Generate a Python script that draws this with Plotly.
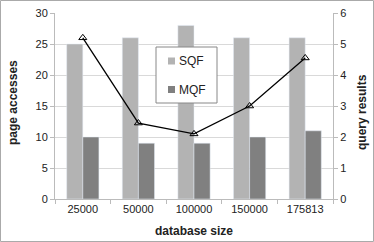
import plotly.graph_objects as go

categories = ["25000", "50000", "100000", "150000", "175813"]
sqf = [25, 26, 28, 26, 26]
mqf = [10, 9, 9, 10, 11]
query_results = [5.2, 2.45, 2.1, 3.0, 4.55]
legend_names = ["SQF", "MQF"]
colors = ["#b3b3b3", "#808080"]

W, H = 374, 242
L, R, T, B = 55, 41, 13, 43
pw, ph = W - L - R, H - T - B


def px(x):
    return (x - L) / pw


def py(y):
    return (H - B - y) / ph


fig = go.Figure()
fig.add_trace(go.Bar(x=categories, y=sqf, name=legend_names[0], marker_color=colors[0]))
fig.add_trace(go.Bar(x=categories, y=mqf, name=legend_names[1], marker_color=colors[1]))
fig.add_trace(go.Scatter(x=categories, y=query_results, yaxis="y2", mode="lines+markers",
                         line=dict(color="black", width=1.3),
                         marker=dict(symbol="triangle-up-open", size=7, color="black",
                                     line=dict(width=1)),
                         showlegend=False))

font = "Liberation Sans"
axis_common = dict(ticks="outside", ticklen=4, tickcolor="#bbb", showline=True,
                   linecolor="#bbb", automargin=False)

shapes = [dict(type="rect", xref="paper", yref="paper",
               x0=(-L + 0.5) / pw, x1=1 + (R - 0.5) / pw,
               y0=(-B + 0.5) / ph, y1=1 + (T - 0.5) / ph,
               line=dict(color="#aaa", width=1), layer="below"),
          dict(type="rect", xref="paper", yref="paper",
               x0=px(156), x1=px(217), y0=py(103), y1=py(47),
               line=dict(color="#888", width=1), fillcolor="white", layer="above")]
annotations = [
    dict(text="<b>page accesses</b>", xref="paper", yref="paper", x=px(13), y=py(103),
         textangle=-90, showarrow=False, font=dict(size=12), xanchor="center", yanchor="middle"),
    dict(text="<b>query results</b>", xref="paper", yref="paper", x=px(362), y=py(112),
         textangle=-90, showarrow=False, font=dict(size=12), xanchor="center", yanchor="middle"),
    dict(text="<b>database size</b>", xref="paper", yref="paper", x=px(194), y=py(231),
         showarrow=False, font=dict(size=12), xanchor="center", yanchor="middle"),
]
leg_y = [61, 89.5]
for name, col, yy in zip(legend_names, colors, leg_y):
    shapes.append(dict(type="rect", xref="paper", yref="paper",
                       x0=px(168), x1=px(175), y0=py(yy + 3.5), y1=py(yy - 3.5),
                       line=dict(width=0), fillcolor=col, layer="above"))
    annotations.append(dict(text=name, xref="paper", yref="paper", x=px(177), y=py(yy),
                            xanchor="left", yanchor="middle", showarrow=False,
                            font=dict(size=12)))

fig.update_layout(
    width=W, height=H,
    margin=dict(l=L, r=R, t=T, b=B),
    paper_bgcolor="white", plot_bgcolor="white",
    font=dict(family=font, size=11, color="#222"),
    barmode="group", bargap=0.42, bargroupgap=0,
    showlegend=False,
    xaxis=dict(showgrid=False, tickson="boundaries", **axis_common),
    yaxis=dict(range=[0, 30], dtick=5, showgrid=True, gridcolor="#d9d9d9",
               zeroline=False, **axis_common),
    yaxis2=dict(range=[0, 6], dtick=1, overlaying="y", side="right", showgrid=False,
                zeroline=False, **axis_common),
    shapes=shapes,
    annotations=annotations,
)

fig.write_html("out.html", config={"displayModeBar": False},
               post_script="document.body.style.margin='0';document.body.style.overflow='hidden';")
